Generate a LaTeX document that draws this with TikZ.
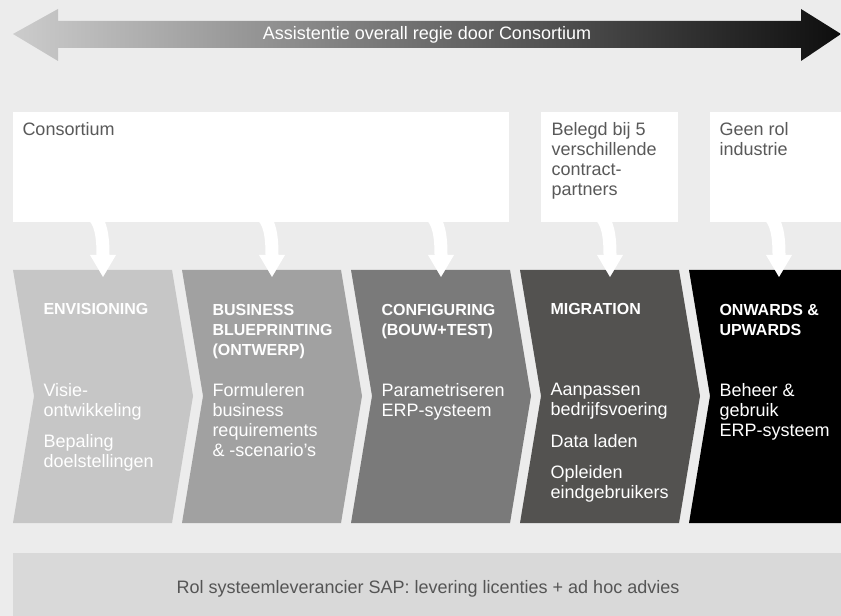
\documentclass[tikz,border=0pt]{standalone}
\usepackage{fontspec}
\setmainfont{Liberation Sans}
\usetikzlibrary{arrows.meta}

\tikzset{every picture/.style={line width=0.75pt}}
\tikzset{
phase head/.style={anchor=base west, inner sep=0.75pt, align=left, text={rgb, 255:red, 255; green, 255; blue, 255 }, font=\bfseries\fontsize{12}{15}\selectfont},
phase body/.style={anchor=base west, inner sep=0.75pt, align=left, text={rgb, 255:red, 255; green, 255; blue, 255 }, font=\fontsize{13.5}{15}\selectfont},
role text/.style={anchor=base west, inner sep=0.75pt, align=left, text={rgb, 255:red, 89; green, 89; blue, 89 }, font=\fontsize{13.5}{15}\selectfont},
drop arrow/.style={draw={rgb, 255:red, 255; green, 255; blue, 255 }, line width=9.75pt, -{Triangle[width=19.5pt,length=16.5pt,line width=0pt]}}
}

\begin{document}
\begin{tikzpicture}[x=0.75pt,y=0.75pt,yscale=-1,xscale=1]
\useasboundingbox (0,0) rectangle (841,616);
\clip (0,0) rectangle (841,616);
%multi-line text nodes are placed at the baseline of their last line

%Shape: Rectangle [background]
\fill [fill={rgb, 255:red, 236; green, 236; blue, 236 }] (0,0) rectangle (841,616);

%Shape: Double Arrow [regie]
\shade [left color={rgb, 255:red, 204; green, 204; blue, 204 }, middle color={rgb, 255:red, 140; green, 140; blue, 140 }, right color={rgb, 255:red, 14; green, 14; blue, 14 }] (13,34) -- (58,9) -- (58,21) -- (801,21) -- (801,9) -- (841,34) -- (801,61) -- (801,48) -- (58,48) -- (58,61) -- cycle ;
% Text Node
\draw (427,39.5) node (regie) [anchor=base][inner sep=0.75pt] [text={rgb, 255:red, 255; green, 255; blue, 255 }, font=\fontsize{13.5}{15}\selectfont] {Assistentie overall regie door Consortium};

%Shape: Rectangle [roles]
\fill [fill={rgb, 255:red, 255; green, 255; blue, 255 }] (13,112) rectangle (509,222);
\fill [fill={rgb, 255:red, 255; green, 255; blue, 255 }] (541,112) rectangle (678,222);
\fill [fill={rgb, 255:red, 255; green, 255; blue, 255 }] (710,112) rectangle (841,222);

% Text Node
\draw (21,136) node (consortium) [role text] {Consortium};
% Text Node
\draw (550,196) node (partners) [role text] {Belegd bij 5\\verschillende\\contract-\\partners};
% Text Node
\draw (718,156) node (industrie) [role text] {Geen rol\\industrie};

%Shape: Chevron [envisioning]
\fill [fill={rgb, 255:red, 198; green, 198; blue, 198 }] (13,270) -- (172,270) -- (193,396) -- (172,523) -- (13,523) -- (34,396) -- cycle ;
%Shape: Chevron [blueprinting]
\fill [fill={rgb, 255:red, 161; green, 161; blue, 161 }] (182,270) -- (341,270) -- (362,396) -- (341,523) -- (182,523) -- (203,396) -- cycle ;
%Shape: Chevron [configuring]
\fill [fill={rgb, 255:red, 122; green, 122; blue, 122 }] (351,270) -- (510,270) -- (531,396) -- (510,523) -- (351,523) -- (372,396) -- cycle ;
%Shape: Chevron [migration]
\fill [fill={rgb, 255:red, 83; green, 82; blue, 80 }] (520,270) -- (679,270) -- (700,396) -- (679,523) -- (520,523) -- (541,396) -- cycle ;
%Shape: Chevron [onwards]
\fill [fill={rgb, 255:red, 0; green, 0; blue, 0 }] (689,270) -- (841,270) -- (841,523) -- (689,523) -- (710,396) -- cycle ;

% Text Node
\draw (42,315) node (headA) [phase head] {ENVISIONING};
\draw (42,467.5) node (bodyA) [phase body] {Visie-\\ontwikkeling\\[8.5pt]Bepaling\\doelstellingen};
% Text Node
\draw (211,355) node (headB) [phase head] {BUSINESS\\BLUEPRINTING\\(ONTWERP)};
\draw (211,456) node (bodyB) [phase body] {Formuleren\\business\\requirements\\\& -scenario's};
% Text Node
\draw (380,335) node (headC) [phase head] {CONFIGURING\\(BOUW+TEST)};
\draw (380,416) node (bodyC) [phase body] {Parametriseren\\ERP-systeem};
% Text Node
\draw (549,315) node (headD) [phase head] {MIGRATION};
\draw (549,498.5) node (bodyD) [phase body] {Aanpassen\\bedrijfsvoering\\[8.5pt]Data laden\\[8.5pt]Opleiden\\eindgebruikers};
% Text Node
\draw (718,335) node (headE) [phase head] {ONWARDS \&\\UPWARDS};
\draw (718,436) node (bodyE) [phase body] {Beheer \&\\gebruik\\ERP-systeem};

% Drop arrows from the roles into the phases
\coordinate (fromA) at (91,214);  \coordinate (toA) at (103,277);
\coordinate (fromB) at (260,214); \coordinate (toB) at (272,277);
\coordinate (fromC) at (429,214); \coordinate (toC) at (441,277);
\coordinate (fromD) at (598,214); \coordinate (toD) at (610,277);
\coordinate (fromE) at (767,214); \coordinate (toE) at (779,277);
\draw [drop arrow] (fromA) .. controls +(10,6) and +(0,-40) .. (toA);
\draw [drop arrow] (fromB) .. controls +(10,6) and +(0,-40) .. (toB);
\draw [drop arrow] (fromC) .. controls +(10,6) and +(0,-40) .. (toC);
\draw [drop arrow] (fromD) .. controls +(10,6) and +(0,-40) .. (toD);
\draw [drop arrow] (fromE) .. controls +(10,6) and +(0,-40) .. (toE);

%Shape: Rectangle [leverancier]
\fill [fill={rgb, 255:red, 217; green, 217; blue, 217 }] (13,553) rectangle (841,616);
% Text Node
\draw (428,593) node (sap) [anchor=base][inner sep=0.75pt] [text={rgb, 255:red, 85; green, 85; blue, 85 }, font=\fontsize{13.5}{15}\selectfont] {Rol systeemleverancier SAP: levering licenties + ad hoc advies};

\end{tikzpicture}
\end{document}
